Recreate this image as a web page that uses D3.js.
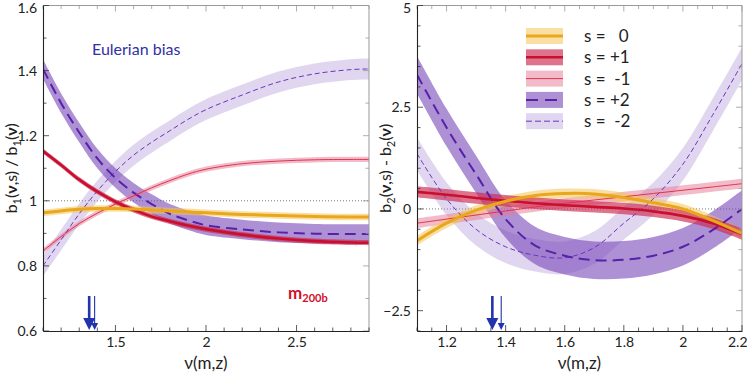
<!DOCTYPE html>
<html>
<head>
<meta charset="utf-8">
<script src="https://cdn.jsdelivr.net/npm/d3@7"></script>
<style>
  body { margin: 0; background: #fff; }
  svg { font-family: Lato, "Open Sans", sans-serif; }
  text { white-space: pre; }
</style>
</head>
<body>
<svg id="chart" width="747" height="374"></svg>
<script>
// ---- data: left panel (b1 ratio) ----
const nuLeft = [1.1, 1.2, 1.3, 1.4, 1.5, 1.6, 1.7, 1.8, 1.9, 2.0, 2.2, 2.4, 2.6, 2.8, 2.9];
const b1s0 = [0.963, 0.969, 0.974, 0.976, 0.976, 0.975, 0.972, 0.969, 0.966, 0.963, 0.958, 0.955, 0.952, 0.950, 0.950];
const b1p1 = [1.153, 1.110, 1.065, 1.028, 0.997, 0.972, 0.952, 0.937, 0.924, 0.913, 0.896, 0.884, 0.876, 0.872, 0.871];
const b1m1 = [0.846, 0.890, 0.930, 0.962, 0.990, 1.015, 1.040, 1.062, 1.082, 1.097, 1.114, 1.122, 1.126, 1.127, 1.127];
const b1p2 = [1.405, 1.300, 1.210, 1.130, 1.070, 1.025, 0.990, 0.960, 0.940, 0.925, 0.912, 0.903, 0.899, 0.898, 0.898];
const b1m2 = [0.800, 0.880, 0.960, 1.030, 1.090, 1.140, 1.180, 1.215, 1.250, 1.280, 1.325, 1.365, 1.390, 1.403, 1.405];
const errLeft = { s0: 0.01, p1: 0.008, m1: 0.008, p2: 0.03, m2: 0.032 };

// ---- data: right panel (b2 difference) ----
const nuRight = [1.1, 1.2, 1.3, 1.4, 1.5, 1.6, 1.7, 1.8, 1.9, 2.0, 2.1, 2.2];
const b2s0 = [-0.78, -0.35, -0.03, 0.19, 0.33, 0.38, 0.37, 0.28, 0.15, 0.0, -0.28, -0.6];
const b2p1 = [0.42, 0.35, 0.27, 0.20, 0.14, 0.09, 0.05, 0.01, -0.06, -0.17, -0.35, -0.62];
const b2m1 = [-0.35, -0.25, -0.15, -0.05, 0.05, 0.14, 0.22, 0.30, 0.38, 0.46, 0.54, 0.62];
const b2p2 = [3.30, 2.00, 0.85, -0.25, -0.90, -1.15, -1.26, -1.25, -1.15, -0.93, -0.52, 0.0];
const b2m2 = [1.36, 0.25, -0.50, -0.93, -1.14, -1.20, -0.95, -0.35, 0.25, 1.10, 2.30, 3.57];
const errRight = { s0: 0.12, p1: 0.14, m1: 0.12, p2: 0.46, m2: 0.40 };

const legendLabels = ['s =   0', 's = +1', 's =  -1', 's = +2', 's =  -2'];
const arrowNu = [1.355, 1.385];

// series styles
const styles = {
    s0: { band: 'rgba(245,196,90,0.55)', line: '#e9a71c', width: 3, dash: null },
    p1: { band: 'rgba(205,40,80,0.65)', line: '#c8102e', width: 2.6, dash: null },
    m1: { band: 'rgba(230,120,150,0.5)', line: '#e0334f', width: 1, dash: null },
    p2: { band: 'rgba(120,70,185,0.6)', line: '#5522a8', width: 2, dash: '11,6' },
    m2: { band: 'rgba(170,140,210,0.36)', line: '#6a35bf', width: 1, dash: '5,3' }
};
const order = ['s0', 'p1', 'm1', 'p2', 'm2'];

const svg = d3.select('#chart');
const yTop = 5.5, yBottom = 331;

function panel(opts) {
    const x = d3.scaleLinear().domain(opts.xDomain).range([opts.x0, opts.x1]);
    const y = d3.scaleLinear().domain(opts.yDomain).range([yBottom, yTop]);
    const g = svg.append('g');

    const clipId = 'clip' + opts.id;
    g.append('clipPath').attr('id', clipId)
        .append('rect')
        .attr('x', opts.x0).attr('y', yTop)
        .attr('width', opts.x1 - opts.x0).attr('height', yBottom - yTop);

    const plot = g.append('g').attr('clip-path', `url(#${clipId})`);

    // reference dotted line
    plot.append('line')
        .attr('x1', opts.x0).attr('x2', opts.x1)
        .attr('y1', y(opts.refY)).attr('y2', y(opts.refY))
        .attr('stroke', '#777').attr('stroke-width', 1)
        .attr('stroke-dasharray', '1,2');

    const area = d3.area()
        .x((d) => x(d.nu))
        .y0((d) => y(d.v - d.e))
        .y1((d) => y(d.v + d.e))
        .curve(d3.curveCatmullRom);
    const line = d3.line()
        .x((d) => x(d.nu))
        .y((d) => y(d.v))
        .curve(d3.curveCatmullRom);

    const rows = order.map((k) => opts.nu.map((n, i) => ({ nu: n, v: opts.series[k][i], e: opts.err[k] })));

    // bands first (light ones at back)
    ['m2', 'p2', 'm1', 's0', 'p1'].forEach((k) => {
        plot.append('path')
            .datum(rows[order.indexOf(k)])
            .attr('d', area)
            .attr('fill', styles[k].band);
    });
    ['m2', 'p2', 'm1', 'p1', 's0'].forEach((k) => {
        plot.append('path')
            .datum(rows[order.indexOf(k)])
            .attr('d', line)
            .attr('fill', 'none')
            .attr('stroke', styles[k].line)
            .attr('stroke-width', styles[k].width)
            .attr('stroke-dasharray', styles[k].dash);
    });

    // arrows
    arrowNu.forEach((n, i) => {
        const ax = x(n);
        const thick = i === 0;
        const yTip = yBottom - 1;
        const headH = thick ? 12 : 7;
        const headW = thick ? 6 : 3.5;
        plot.append('line')
            .attr('x1', ax).attr('x2', ax)
            .attr('y1', 296).attr('y2', yTip - headH + 2)
            .attr('stroke', '#2233b0')
            .attr('stroke-width', thick ? 2.6 : 1.1);
        plot.append('path')
            .attr('d', `M${ax - headW},${yTip - headH} L${ax + headW},${yTip - headH} L${ax},${yTip} Z`)
            .attr('fill', '#2233b0');
    });

    // frame
    g.append('line').attr('x1', opts.x0).attr('x2', opts.x1).attr('y1', yTop).attr('y2', yTop)
        .attr('stroke', '#999').attr('stroke-width', 1);
    g.append('line').attr('x1', opts.x1).attr('x2', opts.x1).attr('y1', yTop).attr('y2', yBottom)
        .attr('stroke', '#999').attr('stroke-width', 1);

    // ticks: inside on all four sides
    const xMajor = opts.xMajor, yMajor = opts.yMajor;
    const xMinor = d3.range(opts.xDomain[0], opts.xDomain[1] + 1e-9, opts.xMinorStep);
    const yMinor = d3.range(opts.yDomain[0], opts.yDomain[1] + 1e-9, opts.yMinorStep);
    const isMajor = (arr, v) => arr.some((m) => Math.abs(m - v) < 1e-6);

    xMinor.forEach((v) => {
        const len = isMajor(xMajor, v) ? 6 : 3.5;
        g.append('line').attr('x1', x(v)).attr('x2', x(v)).attr('y1', yBottom).attr('y2', yBottom - len)
            .attr('stroke', '#333').attr('stroke-width', 0.8);
        g.append('line').attr('x1', x(v)).attr('x2', x(v)).attr('y1', yTop).attr('y2', yTop + len)
            .attr('stroke', '#999').attr('stroke-width', 0.8);
    });
    yMinor.forEach((v) => {
        const len = isMajor(yMajor, v) ? 6 : 3.5;
        g.append('line').attr('x1', opts.x0).attr('x2', opts.x0 + len).attr('y1', y(v)).attr('y2', y(v))
            .attr('stroke', '#333').attr('stroke-width', 0.8);
        g.append('line').attr('x1', opts.x1).attr('x2', opts.x1 - len).attr('y1', y(v)).attr('y2', y(v))
            .attr('stroke', '#999').attr('stroke-width', 0.8);
    });

    // axes (left & bottom) with labels
    const xAxis = d3.axisBottom(x).tickValues(xMajor).tickSize(0).tickPadding(6)
        .tickFormat(opts.xFormat);
    const xa = g.append('g').attr('transform', `translate(0,${yBottom})`).call(xAxis)
        .call((a) => a.select('.domain').attr('stroke', '#222').attr('stroke-width', 1.1));
    if (opts.lastEnd) {
        xa.selectAll('.tick').filter((d) => d === xMajor[xMajor.length - 1])
            .select('text').attr('text-anchor', 'end').attr('x', 5);
    }
    const yAxis = d3.axisLeft(y).tickValues(yMajor).tickSize(0).tickPadding(6)
        .tickFormat(opts.yFormat);
    const ya = g.append('g').attr('transform', `translate(${opts.x0},0)`).call(yAxis)
        .call((a) => a.select('.domain').attr('stroke', '#222').attr('stroke-width', 1.1));
    // keep the topmost label inside the picture
    ya.selectAll('.tick').filter((d) => d === yMajor[yMajor.length - 1])
        .select('text').attr('dy', '0.32em').attr('y', 3);
    g.selectAll('.tick text')
        .attr('font-family', 'Lato, sans-serif')
        .attr('font-size', 14)
        .attr('fill', '#222');

    // axis titles
    g.append('text')
        .attr('x', (opts.x0 + opts.x1) / 2).attr('y', 369)
        .attr('text-anchor', 'middle')
        .attr('font-size', 17).attr('fill', '#222')
        .text('ν(m,z)');

    const yt = g.append('text')
        .attr('transform', `translate(${opts.yTitleX},${(yTop + yBottom) / 2}) rotate(-90)`)
        .attr('text-anchor', 'middle')
        .attr('font-size', 16).attr('fill', '#222');
    opts.yTitle.forEach((p) => {
        const t = yt.append('tspan').text(p.t);
        if (p.sub) t.attr('font-size', 11).attr('dy', 4);
        if (p.up) t.attr('dy', -4);
        if (p.bold) t.attr('font-weight', 'bold');
    });

    return { x, y, g };
}

const fmt = (v) => (Math.abs(v - Math.round(v)) < 1e-9 ? String(Math.round(v)) : String(+v.toFixed(2)));

const left = panel({
    id: 'L', x0: 43, x1: 369,
    xDomain: [1.1, 2.9], yDomain: [0.6, 1.6],
    xMajor: [1.5, 2, 2.5], yMajor: [0.6, 0.8, 1, 1.2, 1.4, 1.6],
    xMinorStep: 0.1, yMinorStep: 0.1,
    xFormat: fmt, yFormat: fmt,
    refY: 1,
    nu: nuLeft,
    series: { s0: b1s0, p1: b1p1, m1: b1m1, p2: b1p2, m2: b1m2 },
    err: errLeft,
    yTitleX: 17,
    yTitle: [{ t: 'b' }, { t: '1', sub: true }, { t: '(', up: true }, { t: 'ν', bold: true }, { t: ',s) / b' },
        { t: '1', sub: true }, { t: '(', up: true }, { t: 'ν', bold: true }, { t: ')' }]
});

const right = panel({
    id: 'R', x0: 417, x1: 742,
    xDomain: [1.1, 2.2], yDomain: [-3, 5],
    xMajor: [1.2, 1.4, 1.6, 1.8, 2, 2.2], yMajor: [-2.5, 0, 2.5, 5],
    xMinorStep: 0.05, yMinorStep: 0.5,
    xFormat: fmt, yFormat: (v) => (v < 0 ? '\u2212' + fmt(-v) : fmt(v)),
    refY: 0,
    lastEnd: true,
    nu: nuRight,
    series: { s0: b2s0, p1: b2p1, m1: b2m1, p2: b2p2, m2: b2m2 },
    err: errRight,
    yTitleX: 391,
    yTitle: [{ t: 'b' }, { t: '2', sub: true }, { t: '(', up: true }, { t: 'ν', bold: true }, { t: ',s) - b' },
        { t: '2', sub: true }, { t: '(', up: true }, { t: 'ν', bold: true }, { t: ')' }]
});

// annotations
left.g.append('text')
    .attr('x', 92).attr('y', 55)
    .attr('font-size', 16).attr('fill', '#3030a8')
    .text('Eulerian bias');

const mLab = left.g.append('text')
    .attr('x', 288).attr('y', 299)
    .attr('font-size', 17).attr('font-weight', 'bold').attr('fill', '#d0102a');
mLab.append('tspan').text('m');
mLab.append('tspan').attr('font-size', 11).attr('dy', 3).text('200b');

// legend
const legend = right.g.append('g');
order.forEach((k, i) => {
    const cy = 36 + i * 21.3;
    legend.append('rect')
        .attr('x', 526).attr('y', cy - 8).attr('width', 37).attr('height', 16)
        .attr('fill', styles[k].band);
    legend.append('line')
        .attr('x1', 526).attr('x2', 563).attr('y1', cy).attr('y2', cy)
        .attr('stroke', styles[k].line)
        .attr('stroke-width', styles[k].width)
        .attr('stroke-dasharray', k === 'p2' ? '12,7' : k === 'm2' ? '6,3' : null);
    legend.append('text')
        .attr('x', 584).attr('y', cy + 6)
        .attr('font-size', 17).attr('fill', '#222')
        .text(legendLabels[i]);
});
</script>
</body>
</html>
